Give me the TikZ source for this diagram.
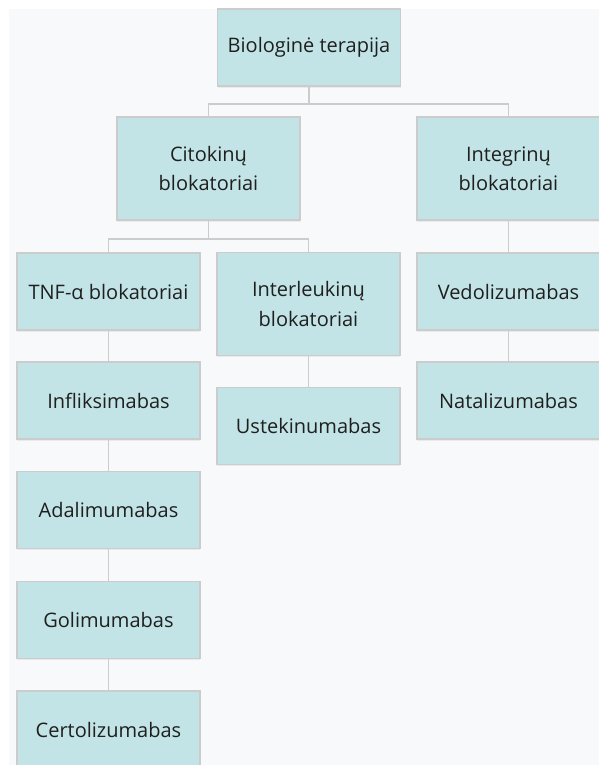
\documentclass[tikz,border=0pt]{standalone}
\usepackage{fontspec}
\setmainfont{Open Sans}
\usetikzlibrary{shadows}
\definecolor{boxfill}{RGB}{195,228,230}
\definecolor{boxline}{RGB}{204,204,204}
\definecolor{wireline}{RGB}{204,204,204}
\definecolor{panel}{RGB}{248,249,251}
\tikzset{
  box/.style={draw=boxline, line width=1.1pt, fill=boxfill,
    minimum width=137.25pt, minimum height=57.75pt, inner sep=0pt,
    align=center, text=black!88, font=\fontsize{15}{22}\selectfont,
    drop shadow={opacity=0.12, shadow xshift=0pt, shadow yshift=-1.2pt}},
  tallbox/.style={box, minimum height=77.25pt},
  wire/.style={draw=wireline, line width=1.2pt}
}
\begin{document}
\begin{tikzpicture}[x=0.75pt, y=-0.75pt]
      \useasboundingbox (0,0) rectangle (599,765);
      \clip (0,0) rectangle (599,765);
      \fill[white] (0,0) rectangle (599,765);
      \fill[panel] (9,9) rectangle (599,765);
      \draw
        (309,47.5) node[box] (root){Biologinė terapija}
        (208.5,168.5) node[tallbox] (cito){Citokinų\\blokatoriai}
        (508.5,168.5) node[tallbox] (integ){Integrinų\\blokatoriai}
        (108.5,291.5) node[box] (tnf){TNF-α blokatoriai}
        (308.5,304) node[tallbox] (inter){Interleukinų\\blokatoriai}
        (508.5,291.5) node[box] (vedo){Vedolizumabas}
        (108.5,400.5) node[box] (infl){Infliksimabas}
        (308.5,426) node[box] (uste){Ustekinumabas}
        (508.5,400.5) node[box] (nata){Natalizumabas}
        (108.5,510) node[box] (adal){Adalimumabas}
        (108.5,620) node[box] (goli){Golimumabas}
        (108.5,729.5) node[box] (cert){Certolizumabas};
      \begin{scope}[wire]
        \draw (root.south) -- ++(0,17) -| (cito.north);
        \draw (root.south) -- ++(0,17) -| (integ.north);
        \draw (cito.south) -- ++(0,18) -| (tnf.north);
        \draw (cito.south) -- ++(0,18) -| (inter.north);
        \draw (integ) to (vedo);
        \draw (vedo) to (nata);
        \draw (inter) to (uste);
        \draw (tnf) to (infl);
        \draw (infl) to (adal);
        \draw (adal) to (goli);
        \draw (goli) to (cert);
      \end{scope}
    \end{tikzpicture}
\end{document}
